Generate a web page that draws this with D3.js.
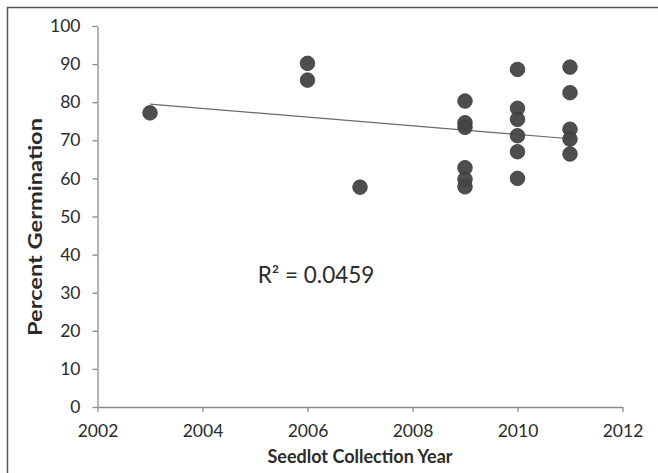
<!DOCTYPE html>
<html>
<head>
<meta charset="utf-8">
<script src="https://cdn.jsdelivr.net/npm/d3@7"></script>
<style>
  body { margin: 0; background: #fff; }
  svg { display: block; font-family: Lato, "Open Sans", sans-serif; }
</style>
</head>
<body>
<svg id="chart" width="658" height="473"></svg>
<script>
// seedlot year / percent germination
const years = [2003, 2006, 2006, 2007,
  2009, 2009, 2009, 2009, 2009, 2009,
  2010, 2010, 2010, 2010, 2010, 2010,
  2011, 2011, 2011, 2011, 2011];
const germination = [77.2, 90.2, 85.8, 57.7,
  80.3, 74.6, 73.4, 62.8, 59.8, 57.8,
  88.6, 78.4, 75.5, 71.2, 67.0, 60.0,
  89.2, 82.5, 72.9, 70.3, 66.4];
const trendYears = [2003, 2011];
const trendValues = [79.5, 70.4];
const xTicks = [2002, 2004, 2006, 2008, 2010, 2012];
const yTicks = [0, 10, 20, 30, 40, 50, 60, 70, 80, 90, 100];
const rSquared = 'R\u00B2 = 0.0459';

const svg = d3.select('svg#chart'),
  margin = {left: 97.5, right: 35.5, top: 26, bottom: 66};
const width = 658 - margin.left - margin.right,
  height = 473 - margin.top - margin.bottom;

// frame around the whole figure (right and bottom run off the page)
svg.append('rect')
  .attr('x', 7.5).attr('y', 7.5)
  .attr('width', 700).attr('height', 500)
  .attr('fill', 'none')
  .attr('stroke', '#555')
  .attr('stroke-width', 1.5);

const g = svg.append('g')
  .attr('transform', `translate(${margin.left},${margin.top})`);

const x = d3.scaleLinear().domain([2002, 2012]).range([0, width]),
  y = d3.scaleLinear().domain([0, 100]).range([height, 0]);

const xAxis = g.append('g')
  .attr('transform', `translate(0,${height})`)
  .call(d3.axisBottom(x).tickValues(xTicks).tickFormat(d3.format('d')).tickSize(5).tickSizeOuter(0));

const yAxis = g.append('g')
  .call(d3.axisLeft(y).tickValues(yTicks).tickSize(5).tickSizeOuter(0));

[xAxis, yAxis].forEach(a => {
  a.select('.domain').attr('stroke', '#8a8a8a').attr('stroke-width', 1.3);
  a.selectAll('.tick line').attr('stroke', '#8a8a8a').attr('stroke-width', 1.3);
  a.selectAll('.tick text')
    .attr('fill', '#2b2b2b')
    .style('font-size', '17.5px')
    .style('font-family', 'Lato, "Open Sans", sans-serif');
});
xAxis.selectAll('.tick text').attr('dy', 0).attr('y', 30);
yAxis.selectAll('.tick text').attr('x', -17);

// trend line
g.append('line')
  .attr('x1', x(trendYears[0])).attr('y1', y(trendValues[0]))
  .attr('x2', x(trendYears[1])).attr('y2', y(trendValues[1]))
  .attr('stroke', '#6a6a6a')
  .attr('stroke-width', 1.2);

// points
g.selectAll('circle.pt')
  .data(years.map((yr, i) => ({yr, v: germination[i]})))
  .enter()
  .append('circle')
  .classed('pt', true)
  .attr('cx', d => x(d.yr))
  .attr('cy', d => y(d.v))
  .attr('r', 7.3)
  .attr('fill', '#454545')
  .attr('fill-opacity', 0.95)
  .attr('stroke', '#3a3a3a')
  .attr('stroke-width', 0.8);

g.append('text')
  .attr('x', x(2005.05))
  .attr('y', y(32.5))
  .attr('fill', '#2b2b2b')
  .style('font-size', '22.5px')
  .text(rSquared);

// axis titles
svg.append('text')
  .attr('x', 360)
  .attr('y', 463)
  .attr('text-anchor', 'middle')
  .attr('fill', '#2b2b2b')
  .style('font-size', '18px')
  .style('font-weight', 'bold')
  .text('Seedlot Collection Year');

svg.append('text')
  .attr('transform', 'translate(42,227) rotate(-90)')
  .attr('text-anchor', 'middle')
  .attr('fill', '#2b2b2b')
  .style('font-size', '19px')
  .style('font-weight', 'bold')
  .attr('textLength', 218)
  .attr('lengthAdjust', 'spacingAndGlyphs')
  .text('Percent Germination');
</script>
</body>
</html>
